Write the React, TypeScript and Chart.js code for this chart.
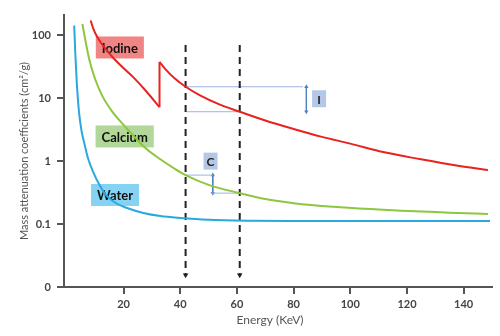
import { useEffect, useRef } from 'react';
import { Chart, registerables } from 'chart.js';

Chart.register(...registerables);

// ---- data (energy in keV, mass attenuation coefficient in cm²/g) ----
const waterE = [2.6, 3.0, 3.5, 4.3, 5.2, 6.2, 7.5, 9.5, 11.5, 13.5, 17, 21.5, 27, 33, 40, 50, 65, 80, 100, 125, 149.3];
const waterV = [143, 50, 18, 6.0, 3.0, 1.9, 1.1, 0.64, 0.42, 0.3, 0.22, 0.178, 0.15, 0.134, 0.125, 0.117, 0.113, 0.112, 0.112, 0.112, 0.112];

const calciumE = [5.5, 6.5, 7.9, 10, 12.6, 15.5, 18.5, 22, 27.8, 33, 38.4, 41.9, 50, 61, 70, 80, 94, 110, 118, 135, 148.6];
const calciumV = [151, 85, 41.7, 20, 10.7, 6.6, 4.47, 3.0, 1.6, 1.07, 0.74, 0.6, 0.42, 0.31, 0.25, 0.215, 0.188, 0.17, 0.163, 0.152, 0.144];

const iodineLowE = [8.4, 9.4, 10.5, 12.6, 16.1, 19.5, 23.5, 28, 32.7];
const iodineLowV = [172, 125, 98, 70, 45.2, 31.6, 21.4, 12.9, 7.2];
const iodineHighE = [32.7, 35, 38, 41.9, 47, 54, 61, 70, 80, 90, 100, 112, 125, 137, 148.6];
const iodineHighV = [37.8, 28.2, 20.7, 15.2, 11.1, 7.9, 6.1, 4.42, 3.24, 2.43, 1.9, 1.38, 1.07, 0.86, 0.72];

const markerE = [41.9, 61];
const markerRange = [70, 0.0155];

const xTicks = [20, 40, 60, 80, 100, 120, 140];
const yTicks = [0.01, 0.1, 1, 10, 100];
const yTickLabels = ['0', '0.1', '1', '10', '100'];
const xTitle = 'Energy (KeV)';
const yTitle = 'Mass attenuation coefficients (cm²/g)';

const curveLabels = ['Iodine', 'Calcium', 'Water'];
const curveLabelE = [18.7, 20.4, 17];
const curveLabelV = [64, 2.47, 0.29];

// difference annotations: I between iodine values, C between calcium values
const diffLabels = ['I', 'C'];
const diffTopV = [15.2, 0.6];
const diffBottomV = [6.1, 0.31];
const diffTopEndE = [83.3, 51.5];
const diffBottomStartE = [41.9, 50.8];
const diffArrowE = [84.5, 51.5];
const diffLabelE = [89, 50.7];
const diffLabelV = [9.8, 1.0];

const RED = '#E8231F';
const GREEN = '#8DC63F';
const BLUE = '#29A9E0';
const labelFills = ['#F08585', '#B1D898', '#86D2F2'];

const pts = (xs: number[], ys: number[]) => xs.map((x, i) => ({ x, y: ys[i] }));

const curve = (data: any[], color: string) => ({
  data,
  borderColor: color,
  borderWidth: 2,
  pointRadius: 0,
  fill: false,
  cubicInterpolationMode: 'monotone' as const,
});

export default function App() {
  const ref = useRef<HTMLCanvasElement>(null);

  useEffect(() => {
    document.body.style.margin = '0';
    const labelPlugin = {
      id: 'labelBoxes',
      beforeDatasetsDraw(chart: any) {
        const ctx = chart.ctx;
        const xs = chart.scales.x;
        const ys = chart.scales.y;
        ctx.save();
        ctx.font = 'bold 13px Lato';
        ctx.textAlign = 'center';
        ctx.textBaseline = 'middle';
        curveLabels.forEach((t, i) => {
          const px = xs.getPixelForValue(curveLabelE[i]);
          const py = ys.getPixelForValue(curveLabelV[i]);
          const w = ctx.measureText(t).width + 12;
          const h = 22;
          ctx.fillStyle = labelFills[i];
          ctx.fillRect(px - w / 2, py - h / 2, w, h);
          ctx.fillStyle = '#111';
          ctx.fillText(t, px, py + 1);
        });
        ctx.font = 'bold 12px Lato';
        diffLabels.forEach((t, i) => {
          const px = xs.getPixelForValue(diffLabelE[i]);
          const py = ys.getPixelForValue(diffLabelV[i]);
          const w = 14;
          const h = 17;
          ctx.fillStyle = '#B4C7E7';
          ctx.fillRect(px - w / 2, py - h / 2, w, h);
          ctx.fillStyle = '#222';
          ctx.fillText(t, px, py + 1);
        });
        // x axis title, slightly left of the plot centre as in the original
        const ca = chart.chartArea;
        ctx.font = '12px Lato';
        ctx.fillStyle = '#555';
        ctx.fillText(xTitle, (ca.left + ca.right) / 2 - 8, chart.height - 16);
        ctx.restore();
      },
    };

    const datasets: any[] = [
      curve(pts(iodineLowE, iodineLowV), RED),
      {
        ...curve(
          [
            { x: iodineLowE[iodineLowE.length - 1], y: iodineLowV[iodineLowV.length - 1] },
            { x: iodineHighE[0], y: iodineHighV[0] },
          ],
          RED
        ),
        cubicInterpolationMode: 'default',
        tension: 0,
      },
      curve(pts(iodineHighE, iodineHighV), RED),
      curve(pts(calciumE, calciumV), GREEN),
      curve(pts(waterE, waterV), BLUE),
    ];

    markerE.forEach((e) => {
      datasets.push({
        data: [
          { x: e, y: markerRange[0] },
          { x: e, y: markerRange[1] },
        ],
        borderColor: '#222',
        borderWidth: 2,
        borderDash: [7, 5],
        pointRadius: [0, 3.2],
        pointStyle: 'triangle',
        pointRotation: 180,
        pointBackgroundColor: '#222',
        pointBorderColor: '#222',
        pointBorderWidth: 0,
        fill: false,
      });
    });

    diffLabels.forEach((_, i) => {
      const thin = {
        borderColor: '#9DB5DE',
        borderWidth: 1,
        pointRadius: 0,
        fill: false,
      };
      datasets.push({
        ...thin,
        data: [
          { x: markerE[0], y: diffTopV[i] },
          { x: diffTopEndE[i], y: diffTopV[i] },
        ],
      });
      datasets.push({
        ...thin,
        data: [
          { x: diffBottomStartE[i], y: diffBottomV[i] },
          { x: markerE[1], y: diffBottomV[i] },
        ],
      });
      datasets.push({
        data: [
          { x: diffArrowE[i], y: diffTopV[i] },
          { x: diffArrowE[i], y: diffBottomV[i] },
        ],
        borderColor: '#4F81BD',
        borderWidth: 1,
        pointRadius: 2.5,
        pointStyle: 'triangle',
        pointRotation: [0, 180],
        pointBackgroundColor: '#4F81BD',
        pointBorderColor: '#4F81BD',
        pointBorderWidth: 0,
        fill: false,
      });
    });

    const tickFont = { family: 'Lato', size: 11, weight: 'bold' as const };

    const chart = new Chart(ref.current!, {
      type: 'line',
      data: { datasets },
      plugins: [labelPlugin],
      options: {
        animation: false,
        responsive: false,
        devicePixelRatio: 1,
        layout: { padding: { top: 15, right: 8, left: 0, bottom: 0 } },
        plugins: { legend: { display: false }, tooltip: { enabled: false } },
        scales: {
          x: {
            type: 'linear',
            position: 'bottom',
            min: -1,
            max: 150,
            afterBuildTicks: (s: any) => {
              s.ticks = xTicks.map((v) => ({ value: v }));
            },
            afterFit: (s: any) => {
              s.height = 49;
            },
            ticks: { font: tickFont, color: '#444', padding: 4, maxRotation: 0 },
            grid: { drawOnChartArea: false, drawTicks: true, tickLength: 7, color: '#555', lineWidth: 2 },
            border: { color: '#555', width: 2 },
            title: { display: false },
          },
          y: {
            type: 'logarithmic',
            min: 0.01,
            max: 210,
            afterBuildTicks: (s: any) => {
              s.ticks = yTicks.map((v) => ({ value: v }));
            },
            afterFit: (s: any) => {
              s.width = 64;
            },
            ticks: {
              font: tickFont,
              color: '#444',
              padding: 6,
              callback: (_v: any, i: number) => yTickLabels[i],
            },
            grid: { drawOnChartArea: false, drawTicks: true, tickLength: 7, color: '#555', lineWidth: 2 },
            border: { color: '#555', width: 2 },
            title: {
              display: true,
              text: yTitle,
              color: '#555',
              font: { family: 'Lato', size: 11 },
              padding: { top: 18, bottom: 4 },
            },
          },
        },
      },
    });
    return () => chart.destroy();
  }, []);

  return (
    <div style={{ width: 500, height: 336, background: '#fff' }}>
      <canvas ref={ref} width={500} height={336} style={{ display: 'block', width: 500, height: 336 }} />
    </div>
  );
}
